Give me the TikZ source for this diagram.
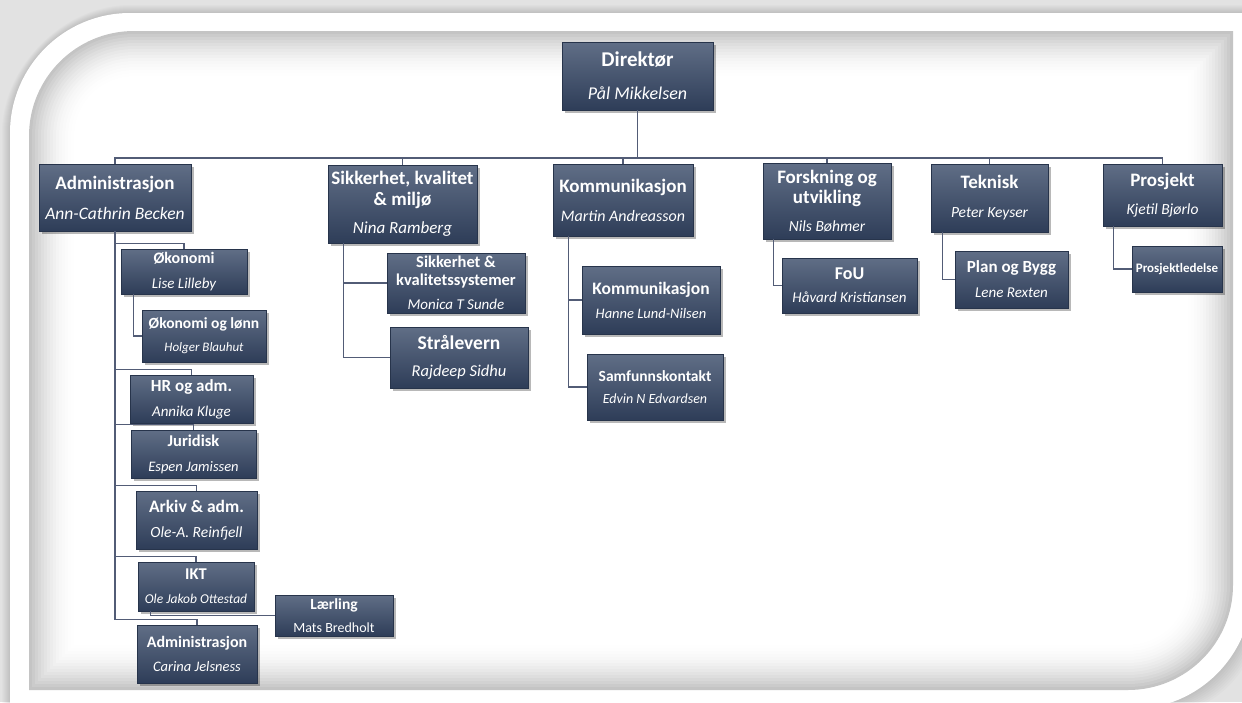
\documentclass[tikz,border=0pt]{standalone}
\usepackage{fontspec}
\setmainfont{Carlito}
\usetikzlibrary{shadows,calc}
\definecolor{boxtop}{RGB}{96,110,134}
\definecolor{boxbot}{RGB}{46,61,88}
\definecolor{conn}{RGB}{82,92,118}
\definecolor{outerbg}{RGB}{226,226,226}
\newcommand\drect[5]{({#1},{#2+#5}) .. controls ({#1},{#2+0.448*#5}) and ({#1+0.448*#5},{#2}) .. ({#1+#5},{#2}) -- ({#3},{#2}) -- ({#3},{#4-#5}) .. controls ({#3},{#4-0.448*#5}) and ({#3-0.448*#5},{#4}) .. ({#3-#5},{#4}) -- ({#1},{#4}) -- cycle}
\newcommand\nm[2]{\fontsize{#1}{#1}\selectfont\mdseries\itshape #2}
\newcommand\fs[2]{\fontsize{#1}{#2}\selectfont\bfseries}
\tikzset{
  orgbox/.style={rectangle, top color=boxtop, bottom color=boxbot, draw=boxbot!85!black, line width=0.4pt,
    text=white, inner sep=0pt, align=center,
    drop shadow={shadow xshift=2.5pt, shadow yshift=-2.5pt, opacity=0.28, fill=black}},
  conn/.style={draw=conn, line width=1.3pt}
}
\begin{document}
\begin{tikzpicture}[x=1pt,y=-1pt]
\useasboundingbox (0,0) rectangle (1242,702);
% background
\fill[outerbg] (0,0) rectangle (1242,702);
\foreach \i in {1,...,8} {\fill[black,opacity=0.014] \drect{10-\i}{13-\i}{1252+\i}{709+\i}{120+\i};}
\fill[white] \drect{10}{13}{1252}{709}{120};
\foreach \i in {0,...,16} {
  \pgfmathsetmacro\d{3*\i}
  \pgfmathsetmacro\rr{max(105-\d,10)}
  \pgfmathsetmacro\g{23*(1-\i/16)^2}
  \fill[black!\g!white] \drect{29+\d}{31+\d}{1233-\d}{690-\d}{\rr};
}
% nodes
\node[orgbox, minimum width=151, minimum height=68, font=\fs{21}{33}] (dir) at (637.5,76) {Direktør\\\nm{18}{Pål Mikkelsen}};
\node[orgbox, minimum width=152, minimum height=67, font=\fs{19}{30}] (adm) at (115,197.5) {Administrasjon\\\nm{17.5}{Ann-Cathrin Becken}};
\node[orgbox, minimum width=149, minimum height=78, font=\fs{19}{21}] (skm) at (402.5,204) {Sikkerhet, kvalitet\\\& miljø\\[7pt]\nm{17}{Nina Ramberg}};
\node[orgbox, minimum width=140, minimum height=72, font=\fs{19}{29}] (kom) at (623,200) {Kommunikasjon\\\nm{16}{Martin Andreasson}};
\node[orgbox, minimum width=128, minimum height=76, font=\fs{19}{20}] (fou1) at (827,201) {Forskning og\\utvikling\\[8pt]\nm{15.5}{Nils Bøhmer}};
\node[orgbox, minimum width=117, minimum height=68, font=\fs{19}{29}] (tek) at (989.5,198) {Teknisk\\\nm{15.5}{Peter Keyser}};
\node[orgbox, minimum width=119, minimum height=62, font=\fs{19}{28}] (prj) at (1162.5,195) {Prosjekt\\\nm{15.5}{Kjetil Bjørlo}};
\node[orgbox, minimum width=126, minimum height=45, font=\fs{16}{25}] (oko) at (184,271.5) {Økonomi\\\nm{15}{Lise Lilleby}};
\node[orgbox, minimum width=124, minimum height=52, font=\fs{15.5}{23}] (okl) at (204,336) {Økonomi og lønn\\\nm{13}{Holger Blauhut}};
\node[orgbox, minimum width=123, minimum height=48, font=\fs{17}{25}] (hr) at (191.5,399) {HR og adm.\\\nm{15}{Annika Kluge}};
\node[orgbox, minimum width=125, minimum height=48, font=\fs{16.5}{25}] (jur) at (193.5,454) {Juridisk\\\nm{14.5}{Espen Jamissen}};
\node[orgbox, minimum width=121, minimum height=58, font=\fs{17.5}{25}] (ark) at (196.5,520) {Arkiv \& adm.\\\nm{15.5}{Ole-A. Reinfjell}};
\node[orgbox, minimum width=116, minimum height=49, font=\fs{16.5}{24}] (ikt) at (196,586.5) {IKT\\\nm{13.5}{Ole Jakob Ottestad}};
\node[orgbox, minimum width=120, minimum height=58, font=\fs{16}{24}] (adm2) at (197,654) {Administrasjon\\\nm{14.5}{Carina Jelsness}};
\node[orgbox, minimum width=118, minimum height=41, font=\fs{15.5}{23}] (lrl) at (334,615.5) {Lærling\\{\fontsize{14}{14}\selectfont\mdseries Mats Bredholt}};
\node[orgbox, minimum width=138, minimum height=60, font=\fs{16.5}{18}] (skq) at (456,283) {Sikkerhet \&\\kvalitetssystemer\\[6pt]\nm{15}{Monica T Sunde}};
\node[orgbox, minimum width=138, minimum height=61, font=\fs{19.5}{27}] (str) at (459,357.5) {Strålevern\\\nm{16.5}{Rajdeep Sidhu}};
\node[orgbox, minimum width=138, minimum height=68, font=\fs{17.5}{24}] (kom2) at (651,300) {Kommunikasjon\\\nm{14.5}{Hanne Lund-Nilsen}};
\node[orgbox, minimum width=136, minimum height=66, font=\fs{15.5}{22}] (sam) at (655,387) {Samfunnskontakt\\\nm{14}{Edvin N Edvardsen}};
\node[orgbox, minimum width=135, minimum height=55, font=\fs{18}{23}] (fou) at (849.5,285.5) {FoU\\\nm{15}{Håvard Kristiansen}};
\node[orgbox, minimum width=113, minimum height=57, font=\fs{17}{25}] (pob) at (1011.5,279.5) {Plan og Bygg\\\nm{15}{Lene Rexten}};
\node[orgbox, minimum width=90, minimum height=46, font=\fs{13}{15}] (pld) at (1177,269) {Prosjektledelse};
% connectors
\coordinate (bus) at (0,158);
\draw[conn] (dir.south) -- (dir.south |- bus);
\draw[conn] (adm.north) -- (adm.north |- bus) -- (prj.north |- bus) -- (prj.north);
\foreach \n in {skm,kom,fou1,tek} {\draw[conn] (\n.north) -- (\n.north |- bus);}
\foreach \n in {oko,hr,jur,ark,ikt,adm2} {\draw[conn] (\n.north) -- ++(0,-5) -| (adm.south);}
\draw[conn] ($(oko.south west)+(13,0)$) |- (okl.west);
\draw[conn] ($(ikt.south west)+(13,0)$) |- (lrl.west);
\draw[conn] ($(skm.south west)+(16,0)$) |- (skq.west);
\draw[conn] ($(skm.south west)+(16,0)$) |- (str.west);
\draw[conn] ($(kom.south west)+(16,0)$) |- (kom2.west);
\draw[conn] ($(kom.south west)+(16,0)$) |- (sam.west);
\draw[conn] ($(fou1.south west)+(11,0)$) |- (fou.west);
\draw[conn] ($(tek.south west)+(12,0)$) |- (pob.west);
\draw[conn] ($(prj.south west)+(11,0)$) |- (pld.west);
\end{tikzpicture}
\end{document}
